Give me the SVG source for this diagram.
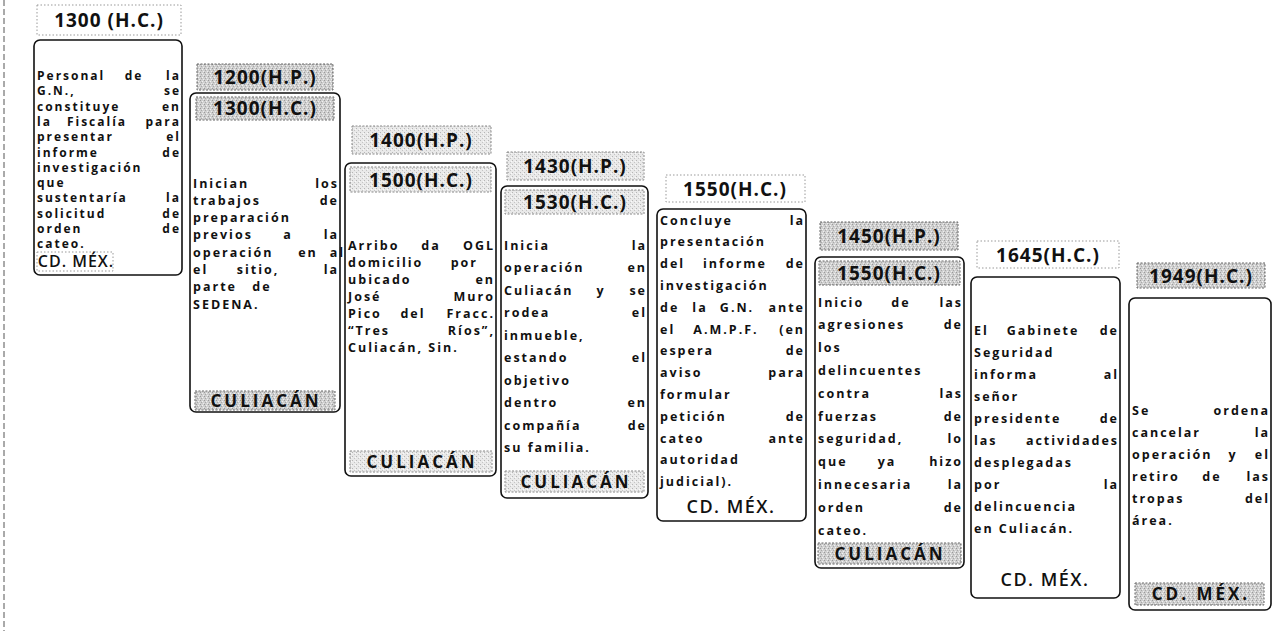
<svg xmlns="http://www.w3.org/2000/svg" width="1274" height="631" viewBox="0 0 1274 631">
<defs>
<pattern id="stipD" width="4" height="4" patternUnits="userSpaceOnUse">
<rect width="4" height="4" fill="#cfcfcf"/>
<rect x="0" y="0" width="1" height="1" fill="#9a9a9a"/>
<rect x="2" y="1" width="1" height="1" fill="#f2f2f2"/>
<rect x="1" y="2" width="1" height="1" fill="#a8a8a8"/>
<rect x="3" y="3" width="1" height="1" fill="#eeeeee"/>
</pattern>
<pattern id="stipL" width="4" height="4" patternUnits="userSpaceOnUse">
<rect width="4" height="4" fill="#e9e9e9"/>
<rect x="0" y="0" width="1" height="1" fill="#b5b5b5"/>
<rect x="2" y="2" width="1" height="1" fill="#c4c4c4"/>
<rect x="3" y="1" width="1" height="1" fill="#fafafa"/>
</pattern>
<style>
.box{fill:#fff;stroke:#111;stroke-width:1.6}
.ld{fill:url(#stipD);stroke:#666;stroke-width:1;stroke-dasharray:2 1.5}
.ll{fill:url(#stipL);stroke:#888;stroke-width:1;stroke-dasharray:2 1.5}
.lw{fill:#fff;stroke:#999;stroke-width:1;stroke-dasharray:1.5 2}
.t{font-family:"Open Sans","Liberation Sans",sans-serif;font-weight:700;font-size:12.5px;letter-spacing:2px;fill:#111}
.s{font-size:12px}
.e{text-anchor:end}
.m{text-anchor:middle}
.h{font-family:"Open Sans","Liberation Sans",sans-serif;font-weight:700;font-size:19px;letter-spacing:1px;text-anchor:middle;fill:#111}
.loc{font-family:"Open Sans","Liberation Sans",sans-serif;font-weight:700;font-size:17px;letter-spacing:3px;text-anchor:middle;fill:#111}
.cd{font-family:"Open Sans","Liberation Sans",sans-serif;font-weight:600;font-size:18px;letter-spacing:1.5px;text-anchor:middle;fill:#111}
</style>
</defs>
<rect width="1274" height="631" fill="#fff"/>
<line x1="4" y1="0" x2="4" y2="631" stroke="#555" stroke-width="1" stroke-dasharray="6 3"/>

<g id="node1">
<rect class="lw" x="37" y="5" width="144" height="30"/>
<text class="h" x="109" y="27">1300 (H.C.)</text>
<rect class="box" x="34" y="40" width="148" height="235" rx="6"/>
<text class="t s" x="37" y="80">Personal</text><text class="t s m" x="134" y="80">de</text><text class="t s e" x="181" y="80">la</text>
<text class="t s" x="37" y="95.3">G.N.,</text><text class="t s e" x="181" y="95.3">se</text>
<text class="t s" x="37" y="110.6">constituye</text><text class="t s e" x="181" y="110.6">en</text>
<text class="t s" x="37" y="125.9">la</text><text class="t s m" x="97" y="125.9">Fiscalía</text><text class="t s e" x="181" y="125.9">para</text>
<text class="t s" x="37" y="141.2">presentar</text><text class="t s e" x="181" y="141.2">el</text>
<text class="t s" x="37" y="156.5">informe</text><text class="t s e" x="181" y="156.5">de</text>
<text class="t s" x="37" y="171.8">investigación</text>
<text class="t s" x="37" y="187.1">que</text>
<text class="t s" x="37" y="202.4">sustentaría</text><text class="t s e" x="181" y="202.4">la</text>
<text class="t s" x="37" y="217.7">solicitud</text><text class="t s e" x="181" y="217.7">de</text>
<text class="t s" x="37" y="233">orden</text><text class="t s e" x="181" y="233">de</text>
<text class="t s" x="37" y="248.3">cateo.</text>
<rect class="lw" x="37" y="252" width="76" height="19"/>
<text class="cd" x="76" y="267" style="font-size:16px;letter-spacing:1px">CD. MÉX.</text>
</g>

<g id="node2">
<rect class="ld" x="197" y="64" width="136" height="26"/>
<text class="h" x="265" y="84">1200(H.P.)</text>
<rect class="box" x="190" y="93" width="150" height="319" rx="6"/>
<rect class="ld" x="196" y="97" width="138" height="23"/>
<text class="h" x="265" y="115">1300(H.C.)</text>
<text class="t" x="193" y="187.5">Inician</text><text class="t e" x="339" y="187.5">los</text>
<text class="t" x="193" y="204.8">trabajos</text><text class="t e" x="339" y="204.8">de</text>
<text class="t" x="193" y="222.1">preparación</text>
<text class="t" x="193" y="239.4">previos</text><text class="t m" x="288" y="239.4">a</text><text class="t e" x="339" y="239.4">la</text>
<text class="t" x="193" y="256.7">operación</text><text class="t m" x="308" y="256.7">en</text><text class="t e" x="345" y="256.7">al</text>
<text class="t" x="193" y="274">el</text><text class="t m" x="258" y="274">sitio,</text><text class="t e" x="339" y="274">la</text>
<text class="t" x="193" y="291.3">parte</text><text class="t m" x="262" y="291.3">de</text>
<text class="t" x="193" y="308.6">SEDENA.</text>
<rect class="ld" x="195" y="391" width="140" height="19"/>
<text class="loc" x="266" y="407">CULIACÁN</text>
</g>

<g id="node3">
<rect class="ll" x="352" y="126" width="139" height="28"/>
<text class="h" x="421" y="147">1400(H.P.)</text>
<rect class="box" x="345" y="163" width="151" height="313" rx="6"/>
<rect class="ll" x="350" y="167" width="141" height="25"/>
<text class="h" x="421" y="187">1500(H.C.)</text>
<text class="t" x="348" y="249.5">Arribo</text><text class="t m" x="431" y="249.5">da</text><text class="t e" x="495" y="249.5">OGL</text>
<text class="t" x="348" y="266.5">domicilio</text><text class="t e" x="478" y="266.5">por</text>
<text class="t" x="348" y="283.5">ubicado</text><text class="t e" x="495" y="283.5">en</text>
<text class="t" x="348" y="300.5">José</text><text class="t e" x="495" y="300.5">Muro</text>
<text class="t" x="348" y="317.5">Pico</text><text class="t m" x="413" y="317.5">del</text><text class="t e" x="495" y="317.5">Fracc.</text>
<text class="t" x="348" y="334.5">“Tres</text><text class="t e" x="495" y="334.5">Ríos”,</text>
<text class="t" x="348" y="351.5">Culiacán, Sin.</text>
<rect class="ll" x="350" y="451" width="142" height="21"/>
<text class="loc" x="422" y="468">CULIACÁN</text>
</g>

<g id="node4">
<rect class="ll" x="507" y="152" width="137" height="28"/>
<text class="h" x="575" y="173">1430(H.P.)</text>
<rect class="box" x="501" y="186" width="147" height="312" rx="6"/>
<rect class="ll" x="505" y="190" width="139" height="24"/>
<text class="h" x="575" y="209">1530(H.C.)</text>
<text class="t" x="504" y="249.5">Inicia</text><text class="t e" x="647" y="249.5">la</text>
<text class="t" x="504" y="272">operación</text><text class="t e" x="647" y="272">en</text>
<text class="t" x="504" y="294.5">Culiacán</text><text class="t m" x="601" y="294.5">y</text><text class="t e" x="647" y="294.5">se</text>
<text class="t" x="504" y="317">rodea</text><text class="t e" x="647" y="317">el</text>
<text class="t" x="504" y="339.5">inmueble,</text>
<text class="t" x="504" y="362">estando</text><text class="t e" x="647" y="362">el</text>
<text class="t" x="504" y="384.5">objetivo</text>
<text class="t" x="504" y="407">dentro</text><text class="t e" x="647" y="407">en</text>
<text class="t" x="504" y="429.5">compañía</text><text class="t e" x="647" y="429.5">de</text>
<text class="t" x="504" y="452">su familia.</text>
<rect class="ll" x="505" y="471" width="139" height="21"/>
<text class="loc" x="576" y="488">CULIACÁN</text>
</g>

<g id="node5">
<rect class="lw" x="666" y="175" width="139" height="27"/>
<text class="h" x="735" y="196">1550(H.C.)</text>
<rect class="box" x="657" y="209" width="149" height="312" rx="6"/>
<text class="t" x="660" y="224.5">Concluye</text><text class="t e" x="805" y="224.5">la</text>
<text class="t" x="660" y="246.3">presentación</text>
<text class="t" x="660" y="268.1">del</text><text class="t m" x="735" y="268.1">informe</text><text class="t e" x="805" y="268.1">de</text>
<text class="t" x="660" y="289.9">investigación</text>
<text class="t" x="660" y="311.7">de</text><text class="t m" x="700" y="311.7">la</text><text class="t m" x="737" y="311.7">G.N.</text><text class="t e" x="805" y="311.7">ante</text>
<text class="t" x="660" y="333.5">el</text><text class="t m" x="726" y="333.5">A.M.P.F.</text><text class="t e" x="805" y="333.5">(en</text>
<text class="t" x="660" y="355.3">espera</text><text class="t e" x="805" y="355.3">de</text>
<text class="t" x="660" y="377.1">aviso</text><text class="t e" x="805" y="377.1">para</text>
<text class="t" x="660" y="398.9">formular</text>
<text class="t" x="660" y="420.7">petición</text><text class="t e" x="805" y="420.7">de</text>
<text class="t" x="660" y="442.5">cateo</text><text class="t e" x="805" y="442.5">ante</text>
<text class="t" x="660" y="464.3">autoridad</text>
<text class="t" x="660" y="486.1">judicial).</text>
<text class="cd" x="731" y="513">CD. MÉX.</text>
</g>

<g id="node6">
<rect class="ld" x="820" y="222" width="138" height="28"/>
<text class="h" x="889" y="243">1450(H.P.)</text>
<rect class="box" x="815" y="257" width="149" height="311" rx="6"/>
<rect class="ld" x="819" y="261" width="141" height="24"/>
<text class="h" x="889" y="280">1550(H.C.)</text>
<text class="t" x="818" y="306.5">Inicio</text><text class="t m" x="901" y="306.5">de</text><text class="t e" x="963" y="306.5">las</text>
<text class="t" x="818" y="329.3">agresiones</text><text class="t e" x="963" y="329.3">de</text>
<text class="t" x="818" y="352.1">los</text>
<text class="t" x="818" y="374.9">delincuentes</text>
<text class="t" x="818" y="397.7">contra</text><text class="t e" x="963" y="397.7">las</text>
<text class="t" x="818" y="420.5">fuerzas</text><text class="t e" x="963" y="420.5">de</text>
<text class="t" x="818" y="443.3">seguridad,</text><text class="t e" x="963" y="443.3">lo</text>
<text class="t" x="818" y="466.1">que</text><text class="t m" x="887" y="466.1">ya</text><text class="t e" x="963" y="466.1">hizo</text>
<text class="t" x="818" y="488.9">innecesaria</text><text class="t e" x="963" y="488.9">la</text>
<text class="t" x="818" y="511.7">orden</text><text class="t e" x="963" y="511.7">de</text>
<text class="t" x="818" y="534.5">cateo.</text>
<rect class="ld" x="818" y="543" width="143" height="21"/>
<text class="loc" x="890" y="560">CULIACÁN</text>
</g>

<g id="node7">
<rect class="lw" x="977" y="241" width="142" height="27"/>
<text class="h" x="1048" y="262">1645(H.C.)</text>
<rect class="box" x="971" y="277" width="149" height="321" rx="6"/>
<text class="t" x="974" y="334.5">El</text><text class="t m" x="1043" y="334.5">Gabinete</text><text class="t e" x="1119" y="334.5">de</text>
<text class="t" x="974" y="356.5">Seguridad</text>
<text class="t" x="974" y="378.5">informa</text><text class="t e" x="1119" y="378.5">al</text>
<text class="t" x="974" y="400.5">señor</text>
<text class="t" x="974" y="422.5">presidente</text><text class="t e" x="1119" y="422.5">de</text>
<text class="t" x="974" y="444.5">las</text><text class="t e" x="1119" y="444.5">actividades</text>
<text class="t" x="974" y="466.5">desplegadas</text>
<text class="t" x="974" y="488.5">por</text><text class="t e" x="1119" y="488.5">la</text>
<text class="t" x="974" y="510.5">delincuencia</text>
<text class="t" x="974" y="532.5">en Culiacán.</text>
<text class="cd" x="1045" y="586">CD. MÉX.</text>
</g>

<g id="node8">
<rect class="ld" x="1137" y="263" width="128" height="25"/>
<text class="h" x="1201" y="283">1949(H.C.)</text>
<rect class="box" x="1129" y="298" width="142" height="312" rx="6"/>
<text class="t" x="1132" y="414.5">Se</text><text class="t e" x="1270" y="414.5">ordena</text>
<text class="t" x="1132" y="436.5">cancelar</text><text class="t e" x="1270" y="436.5">la</text>
<text class="t" x="1132" y="458.5">operación</text><text class="t m" x="1233" y="458.5">y</text><text class="t e" x="1270" y="458.5">el</text>
<text class="t" x="1132" y="480.5">retiro</text><text class="t m" x="1212" y="480.5">de</text><text class="t e" x="1270" y="480.5">las</text>
<text class="t" x="1132" y="502.5">tropas</text><text class="t e" x="1270" y="502.5">del</text>
<text class="t" x="1132" y="524.5">área.</text>
<rect class="ld" x="1135" y="583" width="129" height="22"/>
<text class="loc" x="1201" y="600">CD. MÉX.</text>
</g>

<g id="connectors"></g>
</svg>
